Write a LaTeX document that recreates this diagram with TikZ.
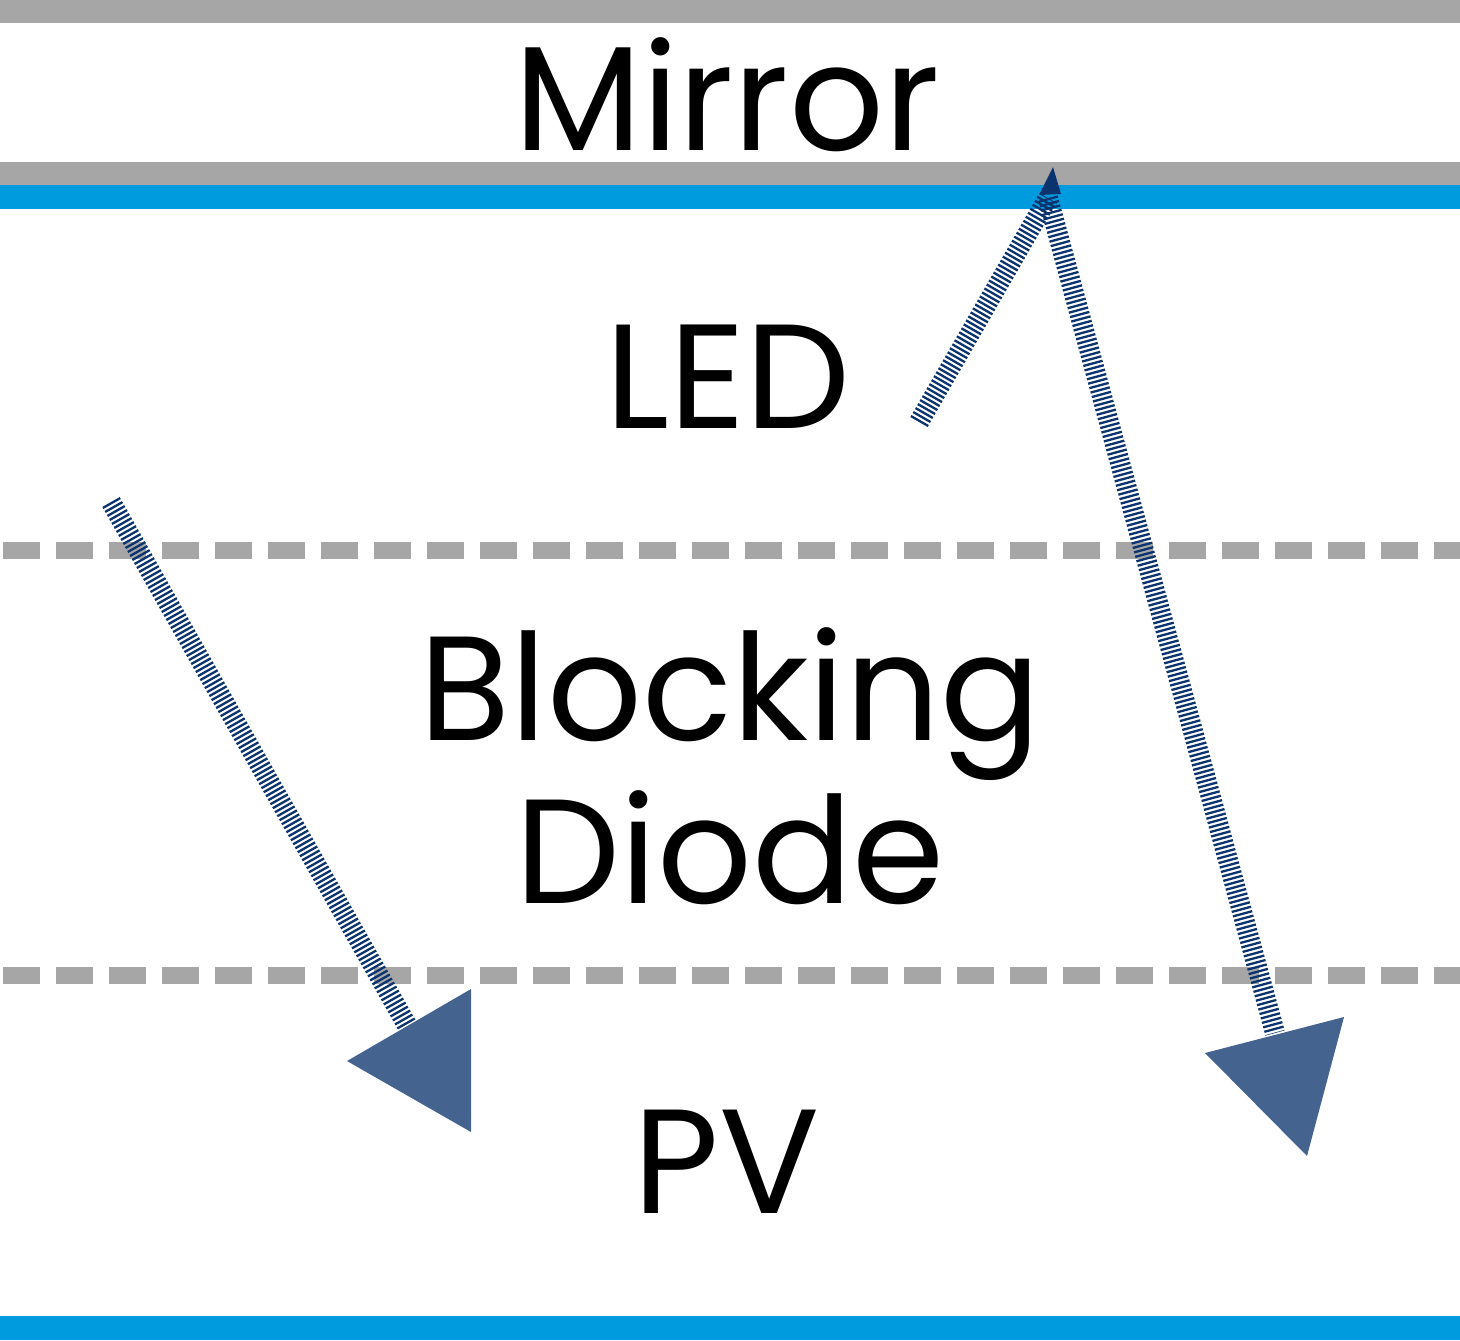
\documentclass[tikz,border=0pt]{standalone}
\usepackage{fontspec}
\setmainfont{Poppins}
\definecolor{bargray}{HTML}{A6A6A6}
\definecolor{barblue}{HTML}{009BDE}
\definecolor{rayblue}{HTML}{0B336E}
\definecolor{headblue}{HTML}{44648F}

\begin{document}
\begin{tikzpicture}[x=0.5pt, y=-0.5pt,
  layer/.style={font=\fontsize{74.2}{80}\selectfont, inner sep=0pt, anchor=base},
  bar/.style={line width=11.75pt},
  sep/.style={bargray, line width=8.5pt, dash pattern=on 18.5pt off 8pt, dash phase=-1.5pt},
  ray/.style={rayblue, line width=10pt, dash pattern=on 1.15pt off 1.15pt},
  head/.style={fill=headblue}
]
\useasboundingbox (0,0) rectangle (1460,1340);

% mirror and contact bars
\draw[bar, bargray] (0,11.5) -- (1460,11.5);
\draw[bar, bargray] (0,173.5) -- (1460,173.5);
\draw[bar, barblue] (0,197) -- (1460,197);
\draw[bar, barblue] (0,1328) -- (1460,1328);

% layer boundaries
\draw[sep] (0,550) -- (1460,550);
\draw[sep] (0,975) -- (1460,975);

% layer names
\node[layer] (mirror) at (727,150) {Mirror};
\node[layer] (led) at (728,428) {LED};
\node[layer] (block) at (730,740) {Blocking};
\node[layer] (diode) at (730,903) {Diode};
\node[layer] (pv) at (727,1213) {PV};

% ray ends
\coordinate (r1s) at (111,502);
\coordinate (r1e) at (408,1027);
\coordinate (r2s) at (919,422);
\coordinate (r2m) at (1048,198);
\coordinate (r2e) at (1275,1033);

% direct ray into the PV
\draw[ray] (r1s) -- (r1e);
\fill[head] (347,1061) -- (471,989) -- (471,1132) -- cycle;

% ray reflected at the mirror
\draw[ray] (r2s) -- (r2m);
\fill[rayblue] (1053,167) -- (1039,195) -- (1061,194) -- cycle;
\draw[ray] (r2m) -- (r2e);
\fill[head] (1205,1053) -- (1344,1017) -- (1307,1156) -- cycle;

\end{tikzpicture}
\end{document}
